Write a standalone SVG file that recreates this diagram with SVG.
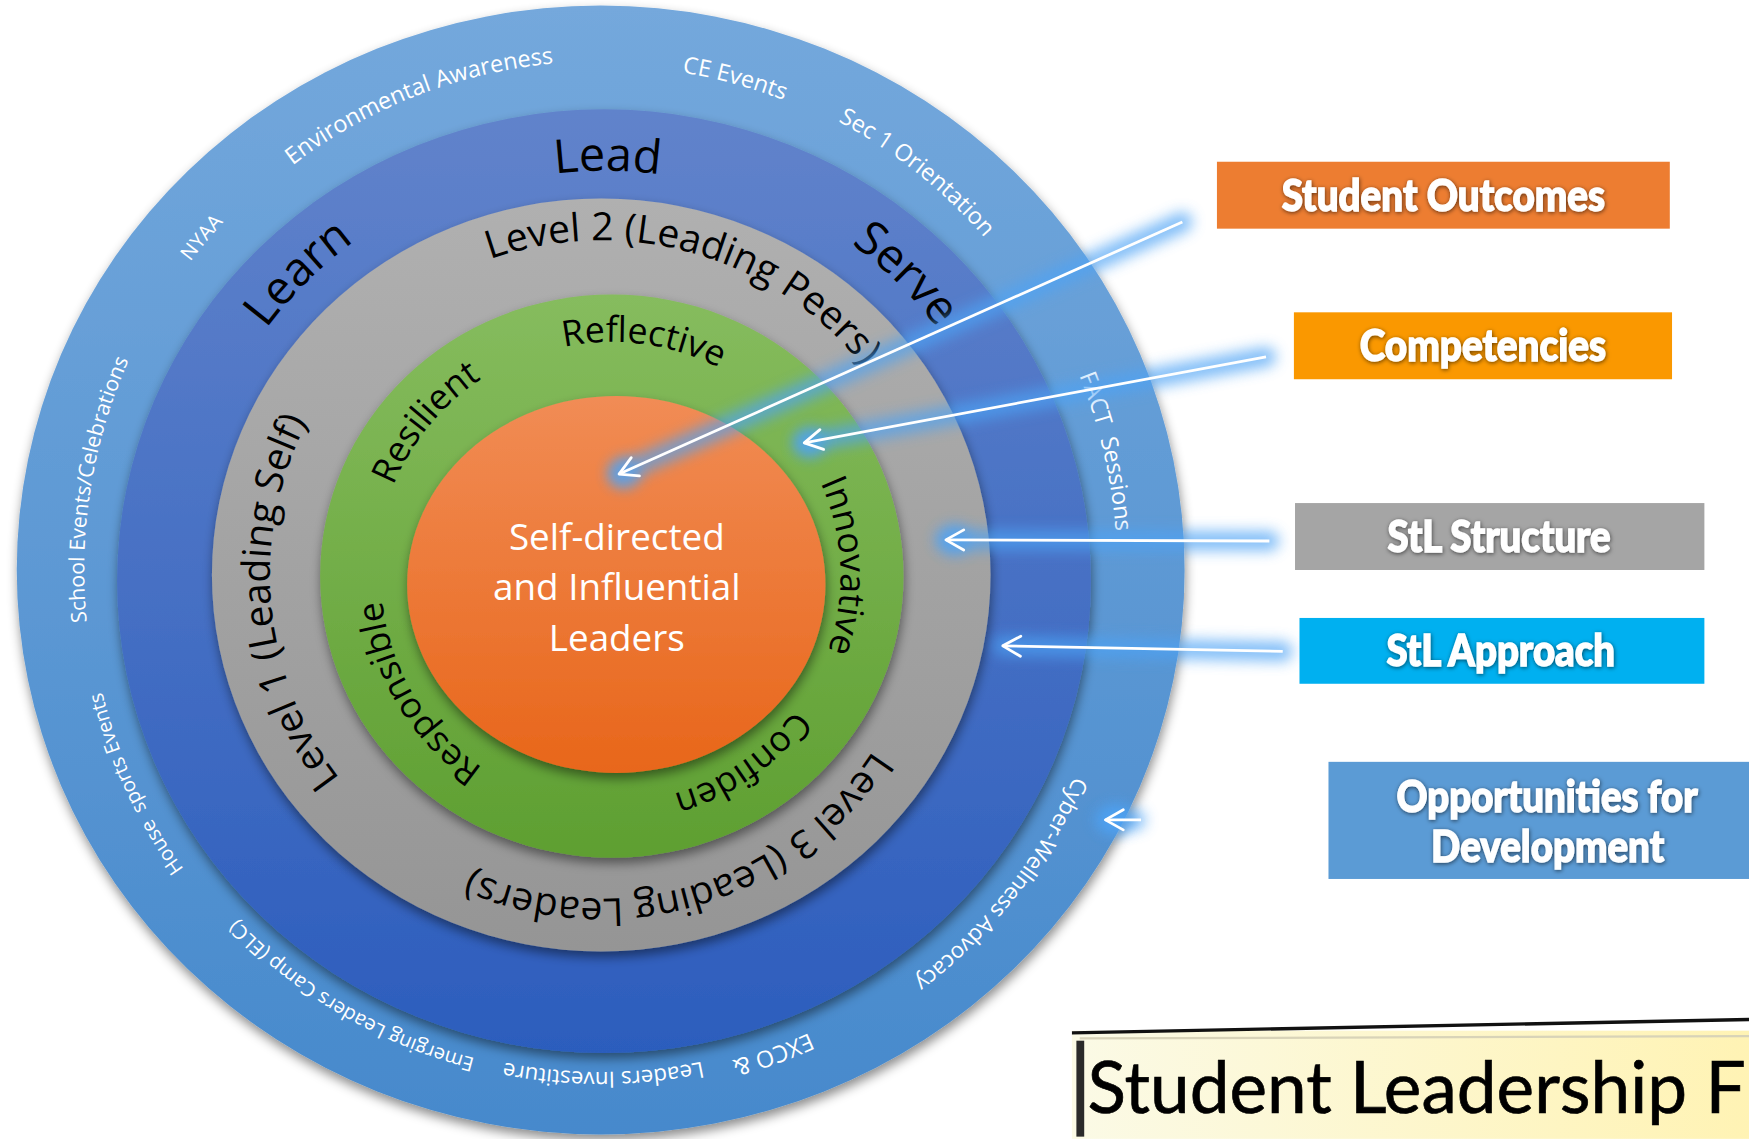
<svg xmlns="http://www.w3.org/2000/svg" width="1749" height="1139" viewBox="0 0 1749 1139">
<defs>
  <linearGradient id="gOuter" x1="0" y1="0" x2="0" y2="1"><stop offset="0" stop-color="#74a8dc"/><stop offset="1" stop-color="#4689cc"/></linearGradient>
  <linearGradient id="gDark" x1="0" y1="0" x2="0" y2="1"><stop offset="0" stop-color="#6183cb"/><stop offset="1" stop-color="#2c5dbd"/></linearGradient>
  <linearGradient id="gGray" x1="0" y1="0" x2="0" y2="1"><stop offset="0" stop-color="#b0b0b0"/><stop offset="1" stop-color="#959595"/></linearGradient>
  <linearGradient id="gGreen" x1="0" y1="0" x2="0" y2="1"><stop offset="0" stop-color="#86bc5e"/><stop offset="1" stop-color="#5e9f31"/></linearGradient>
  <linearGradient id="gOrange" x1="0" y1="0" x2="0" y2="1"><stop offset="0" stop-color="#f18c55"/><stop offset="1" stop-color="#e8661a"/></linearGradient>
  <linearGradient id="gTitle" x1="0" y1="0" x2="1" y2="0"><stop offset="0" stop-color="#fbfae6"/><stop offset="1" stop-color="#fff3b4"/></linearGradient>
  <filter id="sh" x="-10%" y="-10%" width="120%" height="125%"><feDropShadow dx="1" dy="5" stdDeviation="5" flood-color="#000" flood-opacity="0.45"/></filter>
  <filter id="blur" filterUnits="userSpaceOnUse" x="0" y="0" width="1568" height="1021"><feGaussianBlur stdDeviation="6"/></filter>
  <filter id="tsh" x="-10%" y="-30%" width="120%" height="160%"><feDropShadow dx="0.5" dy="1" stdDeviation="1.8" flood-color="#000" flood-opacity="0.6"/></filter>
  <marker id="ah" markerUnits="userSpaceOnUse" markerWidth="22" markerHeight="24" refX="18" refY="12" orient="auto"><path d="M2,3 L18,12 L2,21" fill="none" stroke="#fff" stroke-width="2.5" stroke-linecap="round" stroke-linejoin="round"/></marker>
  <path id="p450" d="M225,-389.71 A450,450 0 0 1 225,389.71"/>
  <path id="p452" d="M226,-391.44 A452,452 0 0 1 226,391.44"/>
  <path id="p455" d="M227.5,-394.04 A455,455 0 0 1 227.5,394.04"/>
  <path id="p456" d="M228,-394.91 A456,456 0 0 1 228,394.91"/>
  <path id="p460" d="M230,-398.37 A460,460 0 0 1 230,398.37"/>
  <path id="p463" d="M231.5,-400.97 A463,463 0 0 1 231.5,400.97"/>
  <path id="p368" d="M184,-318.70 A368,368 0 0 1 184,318.70"/>
  <path id="p375" d="M187.5,-324.76 A375,375 0 0 1 187.5,324.76"/>
  <path id="p378" d="M189,-327.36 A378,378 0 0 1 189,327.36"/>
  <path id="p290" d="M145,-251.15 A290,290 0 0 1 145,251.15"/>
  <path id="p297" d="M148.5,-257.21 A297,297 0 0 1 148.5,257.21"/>
  <path id="p300" d="M150,-259.81 A300,300 0 0 1 150,259.81"/>
  <path id="p203" d="M101.5,-175.80 A203,203 0 0 1 101.5,175.80"/>
  <path id="p205" d="M102.5,-177.53 A205,205 0 0 1 102.5,177.53"/>
  <path id="p207" d="M103.5,-179.27 A207,207 0 0 1 103.5,179.27"/>
  <path id="p210" d="M105,-181.87 A210,210 0 0 1 105,181.87"/>
  <path id="p212" d="M106,-183.60 A212,212 0 0 1 106,183.60"/>
</defs>
<style>
  text{text-anchor:middle}
  .o{font-family:"Open Sans",sans-serif;fill:#fff;font-size:21px}
  .os{font-size:18px}
  .d{font-family:"Open Sans",sans-serif;fill:#000;font-size:42px}
  .g{font-family:"Open Sans",sans-serif;fill:#000;font-size:35px}
  .gr{font-family:"Open Sans",sans-serif;fill:#000;font-size:32px}
  .c{font-family:"Open Sans",sans-serif;fill:#fff;font-size:33px}
  .b{font-family:Lato,"Open Sans",sans-serif;font-weight:900;fill:#fff;stroke:#fff;stroke-width:1.2px;font-size:39px}
  .ttl{font-family:Lato,"Open Sans",sans-serif;fill:#000;stroke:#000;stroke-width:0.6px;font-size:64px;text-anchor:start}
</style>
<g transform="scale(1.115434)">
  <g id="ring-outer"><ellipse cx="538.5" cy="511" rx="523.5" ry="506" fill="url(#gOuter)" filter="url(#sh)"/></g>
  <g id="ring-dark"><ellipse cx="541.5" cy="521" rx="436.5" ry="423" fill="url(#gDark)" filter="url(#sh)"/></g>
  <g id="ring-gray"><ellipse cx="539" cy="515.5" rx="349" ry="337.5" fill="url(#gGray)" filter="url(#sh)"/></g>
  <g id="ring-green"><ellipse cx="548.5" cy="516.5" rx="261.5" ry="252.5" fill="url(#gGreen)" filter="url(#sh)"/></g>
  <g id="core"><ellipse cx="552.5" cy="524" rx="187.5" ry="169" fill="url(#gOrange)" filter="url(#sh)"/>
    <text class="c" x="553" y="493">Self-directed</text>
    <text class="c" x="553" y="538">and Influential</text>
    <text class="c" x="553" y="584">Leaders</text>
  </g>

  <g id="outer-labels">
    <g transform="translate(538.5,511) rotate(-111.3)"><text class="o"><textPath href="#p456" startOffset="50%">Environmental Awareness</textPath></text></g>
    <g transform="translate(538.5,511) rotate(-74.7)"><text class="o"><textPath href="#p452" startOffset="50%">CE Events</textPath></text></g>
    <g transform="translate(538.5,511) rotate(-51.5)"><text class="o"><textPath href="#p455" startOffset="50%">Sec 1 Orientation</textPath></text></g>
    <g transform="translate(538.5,511) rotate(-140.2)"><text class="o os"><textPath href="#p460" startOffset="50%">NYAA</textPath></text></g>
    <g transform="translate(538.5,511) rotate(189.1)"><text class="o" style="font-size:19px"><textPath href="#p463" startOffset="50%">School Events/Celebrations</textPath></text></g>
    <g transform="translate(538.5,511) rotate(155.3)"><text class="o os"><textPath href="#p460" startOffset="50%">House&#160; sports Events</textPath></text></g>
    <g transform="translate(538.5,511) rotate(120.3)"><text class="o os"><textPath href="#p452" startOffset="50%">Emerging Leaders Camp (ELC)</textPath></text></g>
    <g transform="translate(538.5,511) rotate(89.7)"><text class="o" style="font-size:20px"><textPath href="#p450" startOffset="50%">Leaders Investiture</textPath></text></g>
    <g transform="translate(538.5,511) rotate(70.4)"><text class="o"><textPath href="#p455" startOffset="50%">EXCO &amp;</textPath></text></g>
    <g transform="translate(538.5,511) rotate(38.1)"><text class="o" style="font-size:20px"><textPath href="#p463" startOffset="50%">Cyber-Wellness Advocacy</textPath></text></g>
    <g transform="translate(538.5,511) rotate(-13.2)"><text class="o"><textPath href="#p463" startOffset="50%">FACT&#160; Sessions</textPath></text></g>
  </g>

  <g id="dark-labels">
    <g transform="translate(541.5,521) rotate(-89.5)"><text class="d"><textPath href="#p368" startOffset="50%">Lead</textPath></text></g>
    <g transform="translate(541.5,521) rotate(-134.8)"><text class="d"><textPath href="#p378" startOffset="50%">Learn</textPath></text></g>
    <g transform="translate(541.5,521) rotate(-45.5)"><text class="d"><textPath href="#p375" startOffset="50%">Serve</textPath></text></g>
  </g>

  <g id="gray-labels">
    <g transform="translate(539,515.5) rotate(-74)"><text class="g"><textPath href="#p300" startOffset="50%">Level 2 (Leading Peers)</textPath></text></g>
    <g transform="translate(539,515.5) rotate(174.8)"><text class="g"><textPath href="#p297" startOffset="50%">Level 1 (Leading Self)</textPath></text></g>
    <g transform="translate(539,515.5) rotate(73.3)"><text class="g"><textPath href="#p290" startOffset="50%">Level 3 (Leading Leaders)</textPath></text></g>
  </g>

  <g id="green-labels">
    <g transform="translate(548.5,516.5) rotate(-82.3)"><text class="gr"><textPath href="#p210" startOffset="50%">Reflective</textPath></text></g>
    <g transform="translate(548.5,516.5) rotate(-140.5)"><text class="gr"><textPath href="#p212" startOffset="50%">Resilient</textPath></text></g>
    <g transform="translate(548.5,516.5) rotate(-2.5)"><text class="gr"><textPath href="#p205" startOffset="50%">Innovative</textPath></text></g>
    <g transform="translate(548.5,516.5) rotate(55.2)"><text class="gr"><textPath href="#p203" startOffset="50%">Confiden</textPath></text></g>
    <g transform="translate(548.5,516.5) rotate(148.9)"><text class="gr"><textPath href="#p207" startOffset="50%">Responsible</textPath></text></g>
  </g>

  <g id="connectors">
    <g filter="url(#blur)" stroke="#4da3f5" stroke-width="18" stroke-linecap="round" opacity="0.7" fill="none">
      <line x1="1060" y1="199" x2="555" y2="425"/>
      <line x1="1135" y1="320" x2="721" y2="397"/>
      <line x1="1138" y1="485" x2="848" y2="484"/>
      <line x1="1150" y1="584" x2="899" y2="579"/>
      <line x1="1018" y1="735" x2="991" y2="735"/>
    </g>
    <g filter="url(#blur)" fill="#4da3f5" opacity="0.7">
      <circle cx="560" cy="424" r="14"/>
      <circle cx="726" cy="397" r="14"/>
      <circle cx="856" cy="484" r="14"/>
      <circle cx="1000" cy="735" r="14"/>
    </g>
    <g stroke="#fff" stroke-width="2.5" fill="none" marker-end="url(#ah)">
      <line x1="1060" y1="199" x2="555" y2="425"/>
      <line x1="1135" y1="320" x2="721" y2="397"/>
      <line x1="1138" y1="485" x2="848" y2="484"/>
      <line x1="1150" y1="584" x2="899" y2="579"/>
      <line x1="1023" y1="735" x2="991" y2="735"/>
    </g>
  </g>

  <g id="box-outcomes"><rect x="1091" y="145" width="406" height="60" fill="#ed7d31"/><text class="b" x="1294" y="189" textLength="290" lengthAdjust="spacingAndGlyphs" filter="url(#tsh)">Student Outcomes</text></g>
  <g id="box-competencies"><rect x="1160" y="280" width="339" height="60" fill="#fa9800"/><text class="b" x="1329.5" y="324" textLength="221" lengthAdjust="spacingAndGlyphs" filter="url(#tsh)">Competencies</text></g>
  <g id="box-structure"><rect x="1161" y="451" width="367" height="60" fill="#a5a5a5"/><text class="b" x="1344" y="495" textLength="200" lengthAdjust="spacingAndGlyphs" filter="url(#tsh)">StL Structure</text></g>
  <g id="box-approach"><rect x="1165" y="554" width="363" height="59" fill="#00b0f0"/><text class="b" x="1345.5" y="597" textLength="205" lengthAdjust="spacingAndGlyphs" filter="url(#tsh)">StL Approach</text></g>
  <g id="box-opportunities"><rect x="1191" y="683" width="377" height="105" fill="#5b9bd5"/>
    <text class="b" x="1387" y="728" textLength="270" lengthAdjust="spacingAndGlyphs" filter="url(#tsh)">Opportunities for</text>
    <text class="b" x="1387.5" y="773" textLength="209" lengthAdjust="spacingAndGlyphs" filter="url(#tsh)">Development</text>
  </g>

  <g id="title">
    <rect x="961" y="924" width="607" height="97" fill="url(#gTitle)"/>
    <path d="M961,926 L1568,914" stroke="#111" stroke-width="3" fill="none"/>
    <path d="M968,931 L1568,929" stroke="#d8d3b8" stroke-width="2" fill="none"/>
    <rect x="965" y="933" width="7" height="86" fill="#2a2a2a"/>
    <text class="ttl" x="975" y="998" textLength="590" lengthAdjust="spacingAndGlyphs">Student Leadership F</text>
  </g>
</g>
</svg>
